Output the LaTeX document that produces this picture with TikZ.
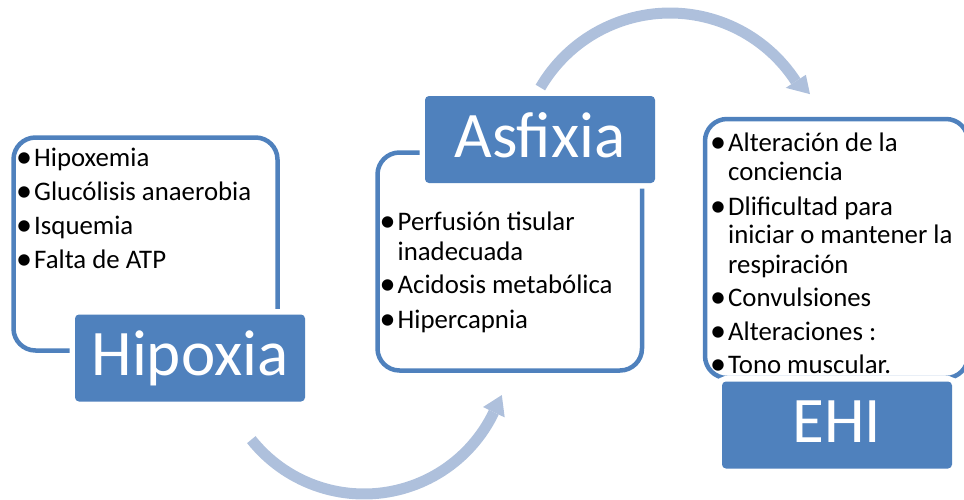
\documentclass[tikz,border=0pt]{standalone}
\usepackage{fontspec}
\setmainfont{Carlito}
\definecolor{accent}{HTML}{4F81BD}
\definecolor{arrowtint}{HTML}{AEC0DC}
\newcommand{\blt}{\llap{\raisebox{-1pt}{\scalebox{1.2}{•}}\hspace{2pt}}}
\begin{document}
\begin{tikzpicture}[x=1pt,y=-1pt,
  listframe/.style={rectangle, draw=accent, line width=4.5pt,
    rounded corners=22pt, inner sep=0pt},
  titlebox/.style={rectangle, fill=accent, rounded corners=4pt,
    preaction={draw=white, line width=11pt},
    minimum width=230pt, minimum height=87pt, inner sep=0pt,
    text=white, font=\fontsize{65}{65}\selectfont,
    text height=41pt, text depth=6pt},
  item/.style={anchor=base west, inner sep=0pt,
    font=\fontsize{26.8}{31}\selectfont},
  cyclearrow/.style={draw=arrowtint, line width=11pt},
  arrowhead/.style={fill=arrowtint}]
\useasboundingbox (0,0) rectangle (964,499);

% outlined panels holding the bullet lists
\node[listframe, minimum width=264pt, minimum height=213pt] (hxframe) at (145.5,244) {};
\node[listframe, minimum width=264.5pt, minimum height=218pt] (asframe) at (509.75,261.5) {};
\node[listframe, minimum width=263pt, minimum height=259pt] (ehframe) at (836.5,248.5) {};

% title boxes
\node[titlebox] (hipoxia) at (190,358) {Hipoxia};
\node[titlebox] (asfixia) at (540,139.5) {Asfixia};
\node[titlebox] (ehi) at (837,425) {EHI};

% Hipoxia list
\node[item] (hx1) at (34,166) {\blt Hipoxemia};
\node[item] (hx2) at (34,200.3) {\blt Glucólisis anaerobia};
\node[item] (hx3) at (34,234.6) {\blt Isquemia};
\node[item] (hx4) at (34,268.9) {\blt Falta de ATP};

% Asfixia list
\node[item] (as1) at (397.5,230) {\blt Perfusión tisular};
\node[item] (as2) at (397.5,260) {inadecuada};
\node[item] (as3) at (397.5,293.5) {\blt Acidosis metabólica};
\node[item] (as4) at (397.5,328) {\blt Hipercapnia};

% EHI list
\node[item] (eh1) at (728,151.7) {\blt Alteración de la};
\node[item] (eh2) at (728,180) {conciencia};
\node[item] (eh3) at (728,215) {\blt Dlificultad para};
\node[item] (eh4) at (728,243.3) {iniciar o mantener la};
\node[item] (eh5) at (728,273.3) {respiración};
\node[item] (eh6) at (728,306.7) {\blt Convulsiones};
\node[item] (eh7) at (728,340) {\blt Alteraciones :};
\node[item] (eh8) at (728,373.3) {\blt Tono muscular.};

% lower curved arrow: Hipoxia -> Asfixia
\draw[cyclearrow] plot[domain=141.5:25.6, samples=60]
  ({364+144*cos(\x)},{350+144*sin(\x)});
\fill[arrowhead] ({364+132*cos(25.6)},{350+132*sin(25.6)})
  -- ({364+145*cos(18.1)},{350+145*sin(18.1)})
  -- ({364+156*cos(25.6)},{350+156*sin(25.6)}) -- cycle;

% upper curved arrow: Asfixia -> EHI
\draw[cyclearrow] plot[domain=-149.8:-33, samples=60]
  ({670+150*cos(\x)},{163+150*sin(\x)});
\fill[arrowhead] ({670+138*cos(-33)},{163+138*sin(-33)})
  -- ({670+156*cos(-26.2)},{163+156*sin(-26.2)})
  -- ({670+162*cos(-33)},{163+162*sin(-33)}) -- cycle;
\end{tikzpicture}
\end{document}
